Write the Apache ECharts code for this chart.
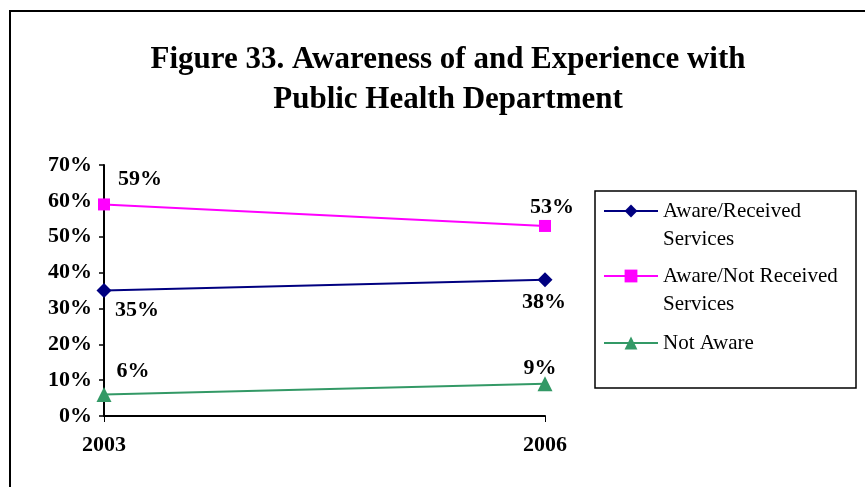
<!DOCTYPE html>
<html>
<head>
<meta charset="utf-8">
<script src="https://cdn.jsdelivr.net/npm/echarts@6/dist/echarts.min.js"></script>
<style>
  html, body { margin: 0; padding: 0; background: #fff; }
  #chart { width: 865px; height: 487px; }
</style>
</head>
<body>
<div id="chart"></div>
<script>
// Survey years and shares (%) for each awareness group
const years = ['2003', '2006'];
const awareReceived = [35, 38];
const awareNotReceived = [59, 53];
const notAware = [6, 9];
const seriesNames = ['Aware/Received Services', 'Aware/Not Received Services', 'Not Aware'];
const yTicks = [0, 10, 20, 30, 40, 50, 60, 70];

const SERIF = "'Liberation Serif', 'Times New Roman', serif";

// Value label placement (offset of label centre from the point), per year
const labelOffsets = {
  received:    [[33, 20], [-1, 23]],
  notReceived: [[36, -25], [7, -19]],
  notAware:    [[29, -23], [-5, -15]]
};

function withLabels(values, offsets) {
  return values.map((v, i) => ({
    value: v,
    label: { offset: offsets[i] }
  }));
}

const labelStyle = {
  show: true,
  position: 'inside',
  align: 'center',
  verticalAlign: 'middle',
  formatter: p => p.value + '%',
  fontFamily: SERIF,
  fontWeight: 'bold',
  fontSize: 22,
  color: '#000'
};

const legendText = {
  fontFamily: SERIF,
  fontSize: 21,
  color: '#000',
  lineHeight: 28
};

const chart = echarts.init(document.getElementById('chart'), null, { renderer: 'canvas' });

chart.setOption({
  backgroundColor: '#fff',
  animation: false,
  title: {
    text: 'Figure 33. Awareness of and Experience with\nPublic Health Department',
    left: 443,
    textAlign: 'center',
    top: 35,
    textStyle: {
      fontFamily: SERIF,
      fontWeight: 'bold',
      fontSize: 31,
      lineHeight: 40,
      color: '#000'
    }
  },
  graphic: [
    {
      type: 'rect',
      shape: { x: 10, y: 11, width: 880, height: 500 },
      style: { fill: 'none', stroke: '#000', lineWidth: 2 },
      silent: true
    },
    {
      type: 'rect',
      shape: { x: 595, y: 191, width: 261, height: 197 },
      style: { fill: 'none', stroke: '#000', lineWidth: 1.5 },
      silent: true
    }
  ],
  legend: [
    {
      data: [seriesNames[0]], left: 603, top: 169, padding: 0,
      itemWidth: 54, itemHeight: 16, itemGap: 0,
      formatter: () => '\nAware/Received\nServices',
      textStyle: legendText
    },
    {
      data: [seriesNames[1]], left: 603, top: 234, padding: 0,
      itemWidth: 54, itemHeight: 16, itemGap: 0,
      formatter: () => '\nAware/Not Received\nServices',
      textStyle: legendText
    },
    {
      data: [seriesNames[2]], left: 603, top: 329, padding: 0,
      itemWidth: 54, itemHeight: 16, itemGap: 0,
      textStyle: legendText
    }
  ],
  grid: {
    left: 104,
    right: 865 - 545,
    top: 165,
    bottom: 487 - 416,
    containLabel: false
  },
  xAxis: {
    type: 'category',
    data: years,
    boundaryGap: false,
    axisLine: { lineStyle: { color: '#000', width: 2 } },
    axisTick: { show: true, length: 6, lineStyle: { color: '#000', width: 1 } },
    axisLabel: {
      margin: 18,
      fontFamily: SERIF,
      fontWeight: 'bold',
      fontSize: 22,
      color: '#000'
    },
    splitLine: { show: false }
  },
  yAxis: {
    type: 'value',
    min: yTicks[0],
    max: yTicks[yTicks.length - 1],
    interval: 10,
    axisLine: { show: true, lineStyle: { color: '#000', width: 2 } },
    axisTick: { show: true, length: 5, lineStyle: { color: '#000', width: 1.5 } },
    axisLabel: {
      margin: 12,
      formatter: v => v + '%',
      fontFamily: SERIF,
      fontWeight: 'bold',
      fontSize: 22,
      color: '#000'
    },
    splitLine: { show: false }
  },
  series: [
    {
      name: seriesNames[0],
      type: 'line',
      data: withLabels(awareReceived, labelOffsets.received),
      symbol: 'diamond',
      symbolSize: 15,
      color: '#000080',
      lineStyle: { width: 2, color: '#000080' },
      itemStyle: { color: '#000080' },
      label: labelStyle,
      z: 3
    },
    {
      name: seriesNames[1],
      type: 'line',
      data: withLabels(awareNotReceived, labelOffsets.notReceived),
      symbol: 'rect',
      symbolSize: 12,
      color: '#FF00FF',
      lineStyle: { width: 2, color: '#FF00FF' },
      itemStyle: { color: '#FF00FF' },
      label: labelStyle,
      z: 3
    },
    {
      name: seriesNames[2],
      type: 'line',
      data: withLabels(notAware, labelOffsets.notAware),
      symbol: 'triangle',
      symbolSize: 15,
      color: '#339966',
      lineStyle: { width: 2, color: '#339966' },
      itemStyle: { color: '#339966' },
      label: labelStyle,
      z: 3
    }
  ]
});
</script>
</body>
</html>
